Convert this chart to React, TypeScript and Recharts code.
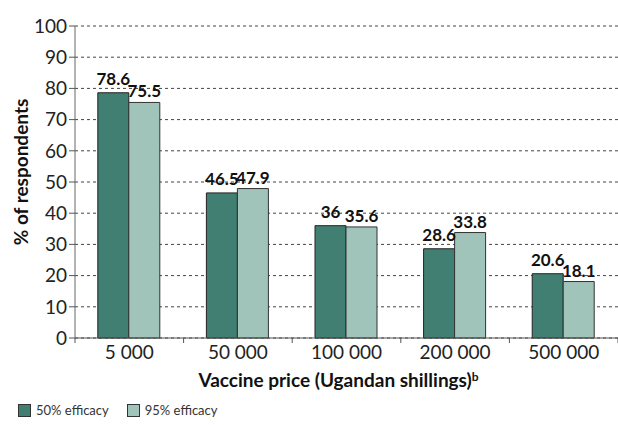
import React from "react";
import {
  BarChart,
  Bar,
  XAxis,
  YAxis,
  CartesianGrid,
  LabelList,
} from "recharts";

const prices = ["5 000", "50 000", "100 000", "200 000", "500 000"];
const efficacy50 = [78.6, 46.5, 36, 28.6, 20.6];
const efficacy95 = [75.5, 47.9, 35.6, 33.8, 18.1];
const yTicks = [0, 10, 20, 30, 40, 50, 60, 70, 80, 90, 100];

const data = prices.map((price, i) => ({
  price,
  e50: efficacy50[i],
  e95: efficacy95[i],
}));

const DARK = "#417f72";
const LIGHT = "#a0c3ba";
const FONT = "Lato, 'Open Sans', sans-serif";

const W = 618;
const H = 425;
const PLOT_LEFT = 75;
const PLOT_RIGHT = 0;
const BAND = (W - PLOT_LEFT - PLOT_RIGHT) / prices.length;

function PriceTick(props: any) {
  const { x, y, payload, index } = props;
  return (
    <g>
      <line x1={x - BAND / 2} y1={y - 8} x2={x - BAND / 2} y2={y - 3} stroke="#555" />
      {index === prices.length - 1 && (
        <line x1={x + BAND / 2} y1={y - 8} x2={x + BAND / 2} y2={y - 3} stroke="#555" />
      )}
      <text x={x} y={y + 13} textAnchor="middle" fontSize={19} fill="#222" fontFamily={FONT}>
        {payload.value}
      </text>
    </g>
  );
}

function LegendBox() {
  const items = [
    { name: "50% efficacy", color: DARK },
    { name: "95% efficacy", color: LIGHT },
  ];
  return (
    <div
      style={{
        position: "absolute",
        left: 18,
        top: 402,
        display: "flex",
        gap: 18,
        fontFamily: FONT,
        fontSize: 13,
        color: "#333",
      }}
    >
      {items.map((it) => (
        <div key={it.name} style={{ display: "flex", alignItems: "center" }}>
          <span
            style={{
              display: "inline-block",
              width: 11,
              height: 11,
              background: it.color,
              border: "1px solid #333",
              marginRight: 5,
            }}
          />
          {it.name}
        </div>
      ))}
    </div>
  );
}

export default function App() {
  return (
    <div style={{ position: "absolute", left: 0, top: 0, width: W, height: H, background: "#fff" }}>
      <BarChart
        width={W}
        height={H}
        data={data}
        margin={{ top: 26, right: PLOT_RIGHT, left: 0, bottom: 0 }}
        barCategoryGap="21%"
        barGap={0}
      >
        <CartesianGrid vertical={false} strokeDasharray="3 3" stroke="#444" />
        <XAxis
          dataKey="price"
          height={87}
          tick={<PriceTick />}
          tickLine={false}
          axisLine={{ stroke: "#555" }}
          interval={0}
          label={{
            content: (p: any) => {
              const vb = p.viewBox;
              return (
                <text
                  x={vb.x + vb.width / 2 - 8}
                  y={vb.y + 49}
                  textAnchor="middle"
                  fontSize={19}
                  fontWeight="bold"
                  fill="#111"
                  fontFamily={FONT}
                >
                  Vaccine price (Ugandan shillings)
                  <tspan fontSize={12} dy={-6}>b</tspan>
                </text>
              );
            },
          }}
        />
        <YAxis
          width={PLOT_LEFT}
          domain={[0, 100]}
          ticks={yTicks}
          interval={0}
          tick={{ fontSize: 19, fill: "#222", fontFamily: FONT }}
          tickSize={6}
          tickLine={{ stroke: "#555" }}
          axisLine={{ stroke: "#666" }}
          label={{
            content: (p: any) => {
              const vb = p.viewBox;
              const cy = vb.y + vb.height / 2 - 10;
              return (
                <text
                  x={20}
                  y={cy}
                  transform={`rotate(-90 20 ${cy})`}
                  textAnchor="middle"
                  dominantBaseline="central"
                  fontSize={19}
                  fontWeight="bold"
                  fill="#111"
                  fontFamily={FONT}
                >
                  % of respondents
                </text>
              );
            },
          }}
        />
        <Bar dataKey="e50" name="50% efficacy" fill={DARK} stroke="#222" strokeWidth={1} isAnimationActive={false}>
          <LabelList dataKey="e50" position="top" offset={8} fontSize={17} fontWeight="bold" fill="#111" fontFamily={FONT} />
        </Bar>
        <Bar dataKey="e95" name="95% efficacy" fill={LIGHT} stroke="#333" strokeWidth={1} isAnimationActive={false}>
          <LabelList dataKey="e95" position="top" offset={5} fontSize={17} fontWeight="bold" fill="#111" fontFamily={FONT} />
        </Bar>
      </BarChart>
      <LegendBox />
    </div>
  );
}
